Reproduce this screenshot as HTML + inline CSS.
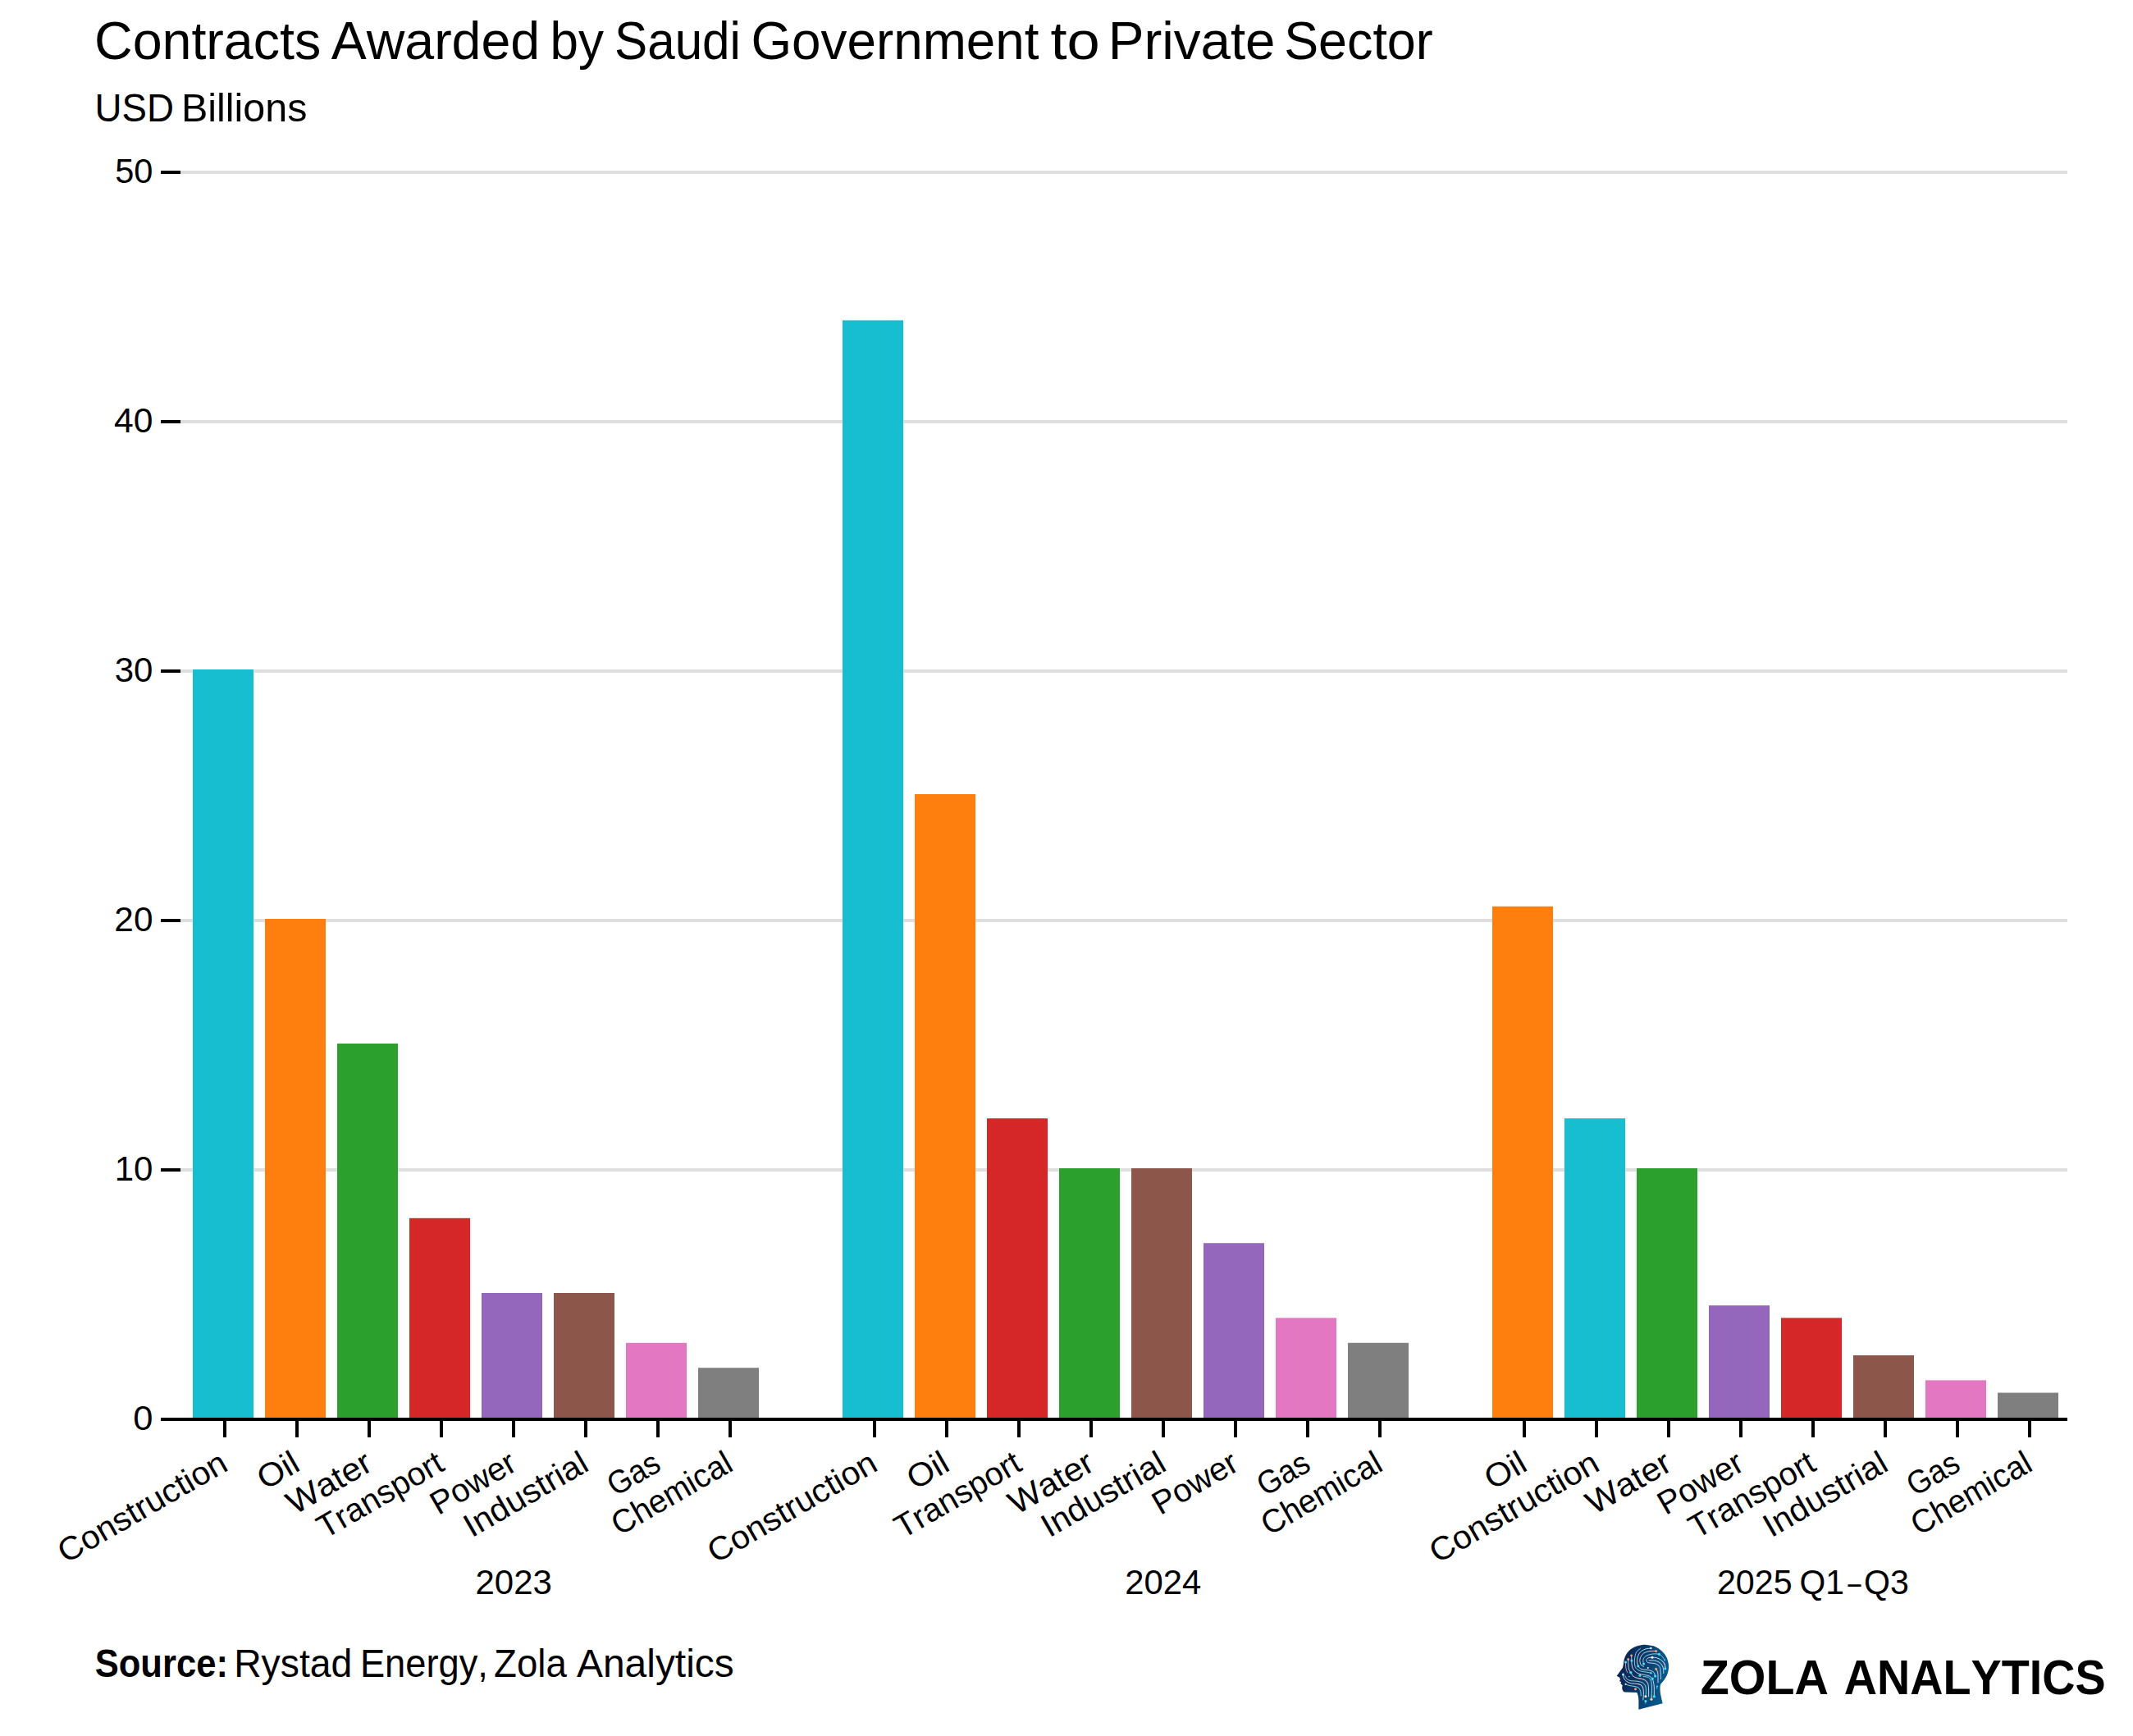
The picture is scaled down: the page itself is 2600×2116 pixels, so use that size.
<!DOCTYPE html>
<html lang="en"><head><meta charset="utf-8"><title>Contracts Awarded by Saudi Government to Private Sector</title>
<style>html,body{margin:0;padding:0;background:#fff}body{width:2600px;height:2116px;overflow:hidden}svg{display:block}text{font-family:"Liberation Sans",sans-serif;fill:#000;font-kerning:none}</style></head><body>
<svg width="2600" height="2116" viewBox="0 0 2600 2116">
<rect width="2600" height="2116" fill="#fff"/>
<text y="71.5" font-size="64"><tspan x="115.02" textLength="276.21" lengthAdjust="spacingAndGlyphs">Contracts</tspan> <tspan x="403.67" textLength="254.58" lengthAdjust="spacingAndGlyphs">Awarded</tspan> <tspan x="670.51" textLength="65.41" lengthAdjust="spacingAndGlyphs">by</tspan> <tspan x="749.07" textLength="153.89" lengthAdjust="spacingAndGlyphs">Saudi</tspan> <tspan x="915.39" textLength="351.18" lengthAdjust="spacingAndGlyphs">Government</tspan> <tspan x="1280.5" textLength="60.33" lengthAdjust="spacingAndGlyphs">to</tspan> <tspan x="1350.73" textLength="203.78" lengthAdjust="spacingAndGlyphs">Private</tspan> <tspan x="1565.15" textLength="181.6" lengthAdjust="spacingAndGlyphs">Sector</tspan></text>
<text y="147.8" font-size="48"><tspan x="115.48" textLength="96.41" lengthAdjust="spacingAndGlyphs">USD</tspan> <tspan x="220.93" textLength="153.42" lengthAdjust="spacingAndGlyphs">Billions</tspan></text>
<g fill="#dedede">
<rect x="220" y="1424" width="2300" height="4"/>
<rect x="220" y="1120" width="2300" height="4"/>
<rect x="220" y="816" width="2300" height="4"/>
<rect x="220" y="512" width="2300" height="4"/>
<rect x="220" y="208" width="2300" height="4"/>
</g>
<g>
<rect x="235" y="816" width="74" height="912" fill="#17becf"/>
<rect x="323" y="1120" width="74" height="608" fill="#ff7f0e"/>
<rect x="411" y="1272" width="74" height="456" fill="#2ca02c"/>
<rect x="499" y="1484.8" width="74" height="243.2" fill="#d62728"/>
<rect x="587" y="1576" width="74" height="152" fill="#9467bd"/>
<rect x="675" y="1576" width="74" height="152" fill="#8c564b"/>
<rect x="763" y="1636.8" width="74" height="91.2" fill="#e377c2"/>
<rect x="851" y="1667.2" width="74" height="60.8" fill="#7f7f7f"/>
<rect x="1027" y="390.4" width="74" height="1337.6" fill="#17becf"/>
<rect x="1115" y="968" width="74" height="760" fill="#ff7f0e"/>
<rect x="1203" y="1363.2" width="74" height="364.8" fill="#d62728"/>
<rect x="1291" y="1424" width="74" height="304" fill="#2ca02c"/>
<rect x="1379" y="1424" width="74" height="304" fill="#8c564b"/>
<rect x="1467" y="1515.2" width="74" height="212.8" fill="#9467bd"/>
<rect x="1555" y="1606.4" width="74" height="121.6" fill="#e377c2"/>
<rect x="1643" y="1636.8" width="74" height="91.2" fill="#7f7f7f"/>
<rect x="1819" y="1104.8" width="74" height="623.2" fill="#ff7f0e"/>
<rect x="1907" y="1363.2" width="74" height="364.8" fill="#17becf"/>
<rect x="1995" y="1424" width="74" height="304" fill="#2ca02c"/>
<rect x="2083" y="1591.2" width="74" height="136.8" fill="#9467bd"/>
<rect x="2171" y="1606.4" width="74" height="121.6" fill="#d62728"/>
<rect x="2259" y="1652" width="74" height="76" fill="#8c564b"/>
<rect x="2347" y="1682.4" width="74" height="45.6" fill="#e377c2"/>
<rect x="2435" y="1697.6" width="74" height="30.4" fill="#7f7f7f"/>
</g>
<g fill="#000">
<rect x="196" y="1728" width="2324" height="4"/>
<rect x="196" y="1424" width="24" height="4"/>
<rect x="196" y="1120" width="24" height="4"/>
<rect x="196" y="816" width="24" height="4"/>
<rect x="196" y="512" width="24" height="4"/>
<rect x="196" y="208" width="24" height="4"/>
<rect x="272" y="1730" width="4" height="22"/>
<rect x="360" y="1730" width="4" height="22"/>
<rect x="448" y="1730" width="4" height="22"/>
<rect x="536" y="1730" width="4" height="22"/>
<rect x="624" y="1730" width="4" height="22"/>
<rect x="712" y="1730" width="4" height="22"/>
<rect x="800" y="1730" width="4" height="22"/>
<rect x="888" y="1730" width="4" height="22"/>
<rect x="1064" y="1730" width="4" height="22"/>
<rect x="1152" y="1730" width="4" height="22"/>
<rect x="1240" y="1730" width="4" height="22"/>
<rect x="1328" y="1730" width="4" height="22"/>
<rect x="1416" y="1730" width="4" height="22"/>
<rect x="1504" y="1730" width="4" height="22"/>
<rect x="1592" y="1730" width="4" height="22"/>
<rect x="1680" y="1730" width="4" height="22"/>
<rect x="1856" y="1730" width="4" height="22"/>
<rect x="1944" y="1730" width="4" height="22"/>
<rect x="2032" y="1730" width="4" height="22"/>
<rect x="2120" y="1730" width="4" height="22"/>
<rect x="2208" y="1730" width="4" height="22"/>
<rect x="2296" y="1730" width="4" height="22"/>
<rect x="2384" y="1730" width="4" height="22"/>
<rect x="2472" y="1730" width="4" height="22"/>
</g>
<g font-size="41.66">
<text x="162.3" y="1743.2" textLength="24.2" lengthAdjust="spacingAndGlyphs">0</text>
<text x="139.68" y="1439.2" textLength="46.76" lengthAdjust="spacingAndGlyphs">10</text>
<text x="139.35" y="1135.2" textLength="47.1" lengthAdjust="spacingAndGlyphs">20</text>
<text x="139.72" y="831.2" textLength="46.72" lengthAdjust="spacingAndGlyphs">30</text>
<text x="139.08" y="527.2" textLength="47.38" lengthAdjust="spacingAndGlyphs">40</text>
<text x="140.18" y="223.2" textLength="46.25" lengthAdjust="spacingAndGlyphs">50</text>
</g>
<g font-size="40">
<text transform="translate(280,1791) rotate(-30)" x="-230.73" textLength="230.75" lengthAdjust="spacingAndGlyphs">Construction</text>
<text transform="translate(368,1791) rotate(-30)" x="-51.67" textLength="51.52" lengthAdjust="spacingAndGlyphs">Oil</text>
<text transform="translate(456,1791) rotate(-30)" x="-111.99" textLength="112.39" lengthAdjust="spacingAndGlyphs">Water</text>
<text transform="translate(544,1791) rotate(-30)" x="-170.71" textLength="170.59" lengthAdjust="spacingAndGlyphs">Transport</text>
<text transform="translate(632,1791) rotate(-30)" x="-113.02" textLength="113.38" lengthAdjust="spacingAndGlyphs">Power</text>
<text transform="translate(720,1791) rotate(-30)" x="-167.3" textLength="167.08" lengthAdjust="spacingAndGlyphs">Industrial</text>
<text transform="translate(808,1791) rotate(-30)" x="-67.02" textLength="66.76" lengthAdjust="spacingAndGlyphs">Gas</text>
<text transform="translate(896,1791) rotate(-30)" x="-162.75" textLength="162.39" lengthAdjust="spacingAndGlyphs">Chemical</text>
<text transform="translate(1072,1791) rotate(-30)" x="-230.73" textLength="230.75" lengthAdjust="spacingAndGlyphs">Construction</text>
<text transform="translate(1160,1791) rotate(-30)" x="-51.67" textLength="51.52" lengthAdjust="spacingAndGlyphs">Oil</text>
<text transform="translate(1248,1791) rotate(-30)" x="-170.71" textLength="170.59" lengthAdjust="spacingAndGlyphs">Transport</text>
<text transform="translate(1336,1791) rotate(-30)" x="-111.99" textLength="112.39" lengthAdjust="spacingAndGlyphs">Water</text>
<text transform="translate(1424,1791) rotate(-30)" x="-167.3" textLength="167.08" lengthAdjust="spacingAndGlyphs">Industrial</text>
<text transform="translate(1512,1791) rotate(-30)" x="-113.02" textLength="113.38" lengthAdjust="spacingAndGlyphs">Power</text>
<text transform="translate(1600,1791) rotate(-30)" x="-67.02" textLength="66.76" lengthAdjust="spacingAndGlyphs">Gas</text>
<text transform="translate(1688,1791) rotate(-30)" x="-162.75" textLength="162.39" lengthAdjust="spacingAndGlyphs">Chemical</text>
<text transform="translate(1864,1791) rotate(-30)" x="-51.67" textLength="51.52" lengthAdjust="spacingAndGlyphs">Oil</text>
<text transform="translate(1952,1791) rotate(-30)" x="-230.73" textLength="230.75" lengthAdjust="spacingAndGlyphs">Construction</text>
<text transform="translate(2040,1791) rotate(-30)" x="-111.99" textLength="112.39" lengthAdjust="spacingAndGlyphs">Water</text>
<text transform="translate(2128,1791) rotate(-30)" x="-113.02" textLength="113.38" lengthAdjust="spacingAndGlyphs">Power</text>
<text transform="translate(2216,1791) rotate(-30)" x="-170.71" textLength="170.59" lengthAdjust="spacingAndGlyphs">Transport</text>
<text transform="translate(2304,1791) rotate(-30)" x="-167.3" textLength="167.08" lengthAdjust="spacingAndGlyphs">Industrial</text>
<text transform="translate(2392,1791) rotate(-30)" x="-67.02" textLength="66.76" lengthAdjust="spacingAndGlyphs">Gas</text>
<text transform="translate(2480,1791) rotate(-30)" x="-162.75" textLength="162.39" lengthAdjust="spacingAndGlyphs">Chemical</text>
</g>
<text y="1943" font-size="41.66"><tspan x="579.49" textLength="93.35" lengthAdjust="spacingAndGlyphs">2023</tspan></text>
<text y="1943" font-size="41.66"><tspan x="1371.2" textLength="93.03" lengthAdjust="spacingAndGlyphs">2024</tspan></text>
<text y="1943" font-size="41.66"><tspan x="2092.92" textLength="91.81" lengthAdjust="spacingAndGlyphs">2025</tspan> <tspan x="2193.57" textLength="54.42" lengthAdjust="spacingAndGlyphs">Q1</tspan><tspan x="2252.4" textLength="16.01" lengthAdjust="spacingAndGlyphs">–</tspan><tspan x="2271.95" textLength="54.85" lengthAdjust="spacingAndGlyphs">Q3</tspan></text>
<text y="2044" font-size="48"><tspan x="115.64" textLength="162.35" lengthAdjust="spacingAndGlyphs" font-weight="bold">Source:</tspan> <tspan x="285.2" textLength="144.08" lengthAdjust="spacingAndGlyphs">Rystad</tspan> <tspan x="438.88" textLength="156.08" lengthAdjust="spacingAndGlyphs">Energy,</tspan> <tspan x="602.05" textLength="88.75" lengthAdjust="spacingAndGlyphs">Zola</tspan> <tspan x="703.01" textLength="191.72" lengthAdjust="spacingAndGlyphs">Analytics</tspan></text>
<text y="2065" font-size="60" font-weight="bold"><tspan x="2072.79" textLength="156.12" lengthAdjust="spacingAndGlyphs">ZOLA</tspan> <tspan x="2247.71" textLength="318.86" lengthAdjust="spacingAndGlyphs">ANALYTICS</tspan></text>
<defs><linearGradient id="hg" x1="0" y1="0" x2="1" y2="0.25"><stop offset="0" stop-color="#0b1b4c"/><stop offset="0.5" stop-color="#0a3768"/><stop offset="1" stop-color="#085a90"/></linearGradient></defs>
<g transform="translate(1965,2000) scale(0.05184)">
<path d="M790 93C825 100 936 107 1000 132C1064 157 1127 200 1175 245C1223 290 1262 342 1288 400C1314 458 1330 530 1333 590C1336 650 1324 708 1308 760C1292 812 1261 863 1235 905C1209 947 1168 978 1150 1010C1132 1042 1132 1060 1130 1100C1128 1140 1130 1188 1140 1250C1150 1312 1182 1433 1190 1470L625 1615L625 1400C622 1330 612 1270 585 1215L300 1205C265 1200 240 1170 235 1100L245 1050L200 1000L215 975L175 940L195 910L180 880L185 868L110 825L250 630C262 590 266 560 270 520C280 400 330 300 400 230C500 140 650 93 790 93Z" fill="url(#hg)"/>
<g fill="none" stroke-width="16" stroke-linecap="round">
<path d="M665 180C649 195 592 233 570 270C548 307 542 358 535 400C528 442 524 480 528 520C532 560 536 608 560 640C584 672 627 694 670 710C713 726 779 730 820 738C861 746 899 752 915 755" stroke="#b5ecf2"/>
<path d="M915 175C892 178 822 179 780 195C738 211 690 238 660 270C630 302 611 348 600 390C589 432 587 482 592 520C597 558 609 595 630 620C651 645 680 660 720 672C760 684 827 679 870 690C913 701 956 717 980 740C1004 763 1007 815 1012 830" stroke="#f0f5f8"/>
<path d="M1035 240C1009 241 929 236 880 245C831 254 776 269 740 295C704 321 679 366 665 400C651 434 651 471 655 500C659 529 675 558 690 575C705 592 736 596 745 600" stroke="#f0f5f8"/>
<path d="M1240 455C1230 441 1202 393 1180 370C1158 347 1143 325 1105 315C1067 305 1001 303 950 310C899 317 837 332 800 355C763 378 739 414 730 445C721 476 742 524 745 540" stroke="#b5ecf2"/>
<path d="M1250 655C1248 636 1252 574 1235 540C1218 506 1181 473 1150 450C1119 427 1084 410 1050 400C1016 390 977 390 945 390C913 390 883 389 860 398C837 407 813 427 808 445C803 463 815 492 830 505C845 518 872 518 900 522C928 526 967 522 1000 532C1033 542 1078 562 1100 585C1122 608 1128 634 1135 670C1142 706 1143 762 1145 800C1147 838 1145 883 1145 900" stroke="#f0f5f8"/>
<path d="M870 460C892 461 962 458 1000 465C1038 472 1070 481 1100 500C1130 519 1162 550 1180 580C1198 610 1205 650 1210 680C1215 710 1210 747 1210 760" stroke="#f0f5f8"/>
<path d="M1035 660C1041 672 1064 698 1072 730C1080 762 1079 808 1080 850C1081 892 1080 958 1080 980" stroke="#f0f5f8"/>
<path d="M320 500C320 517 317 568 320 600C323 632 330 665 338 690C346 715 360 738 365 748" stroke="#e9c3b3"/>
<path d="M380 435C380 456 379 519 382 560C385 601 390 649 400 680C410 711 425 721 440 745C455 769 467 804 490 825C513 846 545 860 580 872C615 884 665 884 700 895C735 906 766 916 790 935C814 954 831 981 842 1010C853 1039 855 1060 858 1110C861 1160 860 1277 860 1310" stroke="#f0f5f8"/>
<path d="M455 345C456 365 458 422 460 465C462 508 460 561 470 600C480 639 495 672 520 700C545 728 580 753 620 770C660 787 717 790 760 800C803 810 849 815 880 830C911 845 929 867 945 892C961 917 968 945 975 980C982 1015 988 1045 990 1100C992 1155 990 1275 990 1310" stroke="#f0f5f8"/>
<path d="M260 790C262 803 262 843 275 870C288 897 306 928 335 950C364 972 406 990 450 1000C494 1010 559 1004 600 1012C641 1020 672 1029 695 1050C718 1071 728 1105 735 1140C742 1175 741 1218 740 1260C739 1302 732 1368 730 1390" stroke="#f0f5f8"/>
<path d="M310 825C317 838 327 881 350 900C373 919 408 932 450 940C492 948 555 942 600 950C645 958 689 967 720 985C751 1003 772 1028 785 1060C798 1092 799 1139 800 1180C801 1221 792 1284 790 1305" stroke="#b5ecf2"/>
<path d="M320 1020C333 1025 367 1042 400 1050C433 1058 483 1062 520 1070C557 1078 595 1082 620 1100C645 1118 658 1148 668 1180C678 1212 678 1272 680 1290" stroke="#b5ecf2"/>
<path d="M740 840C760 844 830 844 860 862C890 880 906 910 918 950C930 990 933 1050 935 1100C937 1150 934 1204 932 1250C930 1296 926 1354 925 1375" stroke="#b5ecf2"/>
<path d="M790 1420C789 1428 786 1462 785 1470" stroke="#45e0f0"/>
<path d="M1060 1070C1058 1079 1052 1116 1050 1125" stroke="#45e0f0"/>
<path d="M585 878C596 879 628 881 650 885C672 889 697 892 720 900C743 908 771 920 790 935C809 950 828 981 835 990" stroke="#f2a27c"/>
<path d="M1035 240C1022 240 982 241 960 242C938 243 910 244 900 245" stroke="#f2a27c"/>
<path d="M1250 655C1248 639 1250 588 1240 560C1230 532 1198 498 1190 485" stroke="#e9c3b3"/>
<path d="M600 1012C613 1017 659 1024 680 1040C701 1056 718 1098 725 1110" stroke="#e9c3b3"/>
<path d="M925 1375C926 1359 929 1296 930 1280" stroke="#f2a27c"/>
<path d="M1035 660C1041 672 1066 718 1072 730" stroke="#f2a27c"/>
</g><g>
<circle cx="915" cy="175" r="24" fill="#d8f3f5"/>
<circle cx="1035" cy="240" r="29" fill="#f2a27c"/>
<circle cx="1105" cy="315" r="31" fill="#45e0f0"/>
<circle cx="945" cy="390" r="29" fill="#fff"/>
<circle cx="1240" cy="455" r="18" fill="#45e0f0"/>
<circle cx="1250" cy="655" r="29" fill="#45e0f0"/>
<circle cx="455" cy="345" r="26" fill="#f2a27c"/>
<circle cx="380" cy="435" r="29" fill="#f2a27c"/>
<circle cx="460" cy="465" r="30" fill="#45e0f0"/>
<circle cx="320" cy="500" r="29" fill="#45e0f0"/>
<circle cx="745" cy="540" r="30" fill="#45e0f0"/>
<circle cx="615" cy="595" r="30" fill="#45e0f0"/>
<circle cx="845" cy="635" r="20" fill="#e9f2f5"/>
<circle cx="1035" cy="660" r="29" fill="#f2a27c"/>
<circle cx="915" cy="755" r="24" fill="#45e0f0"/>
<circle cx="440" cy="745" r="32" fill="#45e0f0"/>
<circle cx="655" cy="815" r="29" fill="#45e0f0"/>
<circle cx="400" cy="840" r="16" fill="#45e0f0"/>
<circle cx="260" cy="790" r="29" fill="#aeeaf0"/>
<circle cx="1015" cy="830" r="31" fill="#45e0f0"/>
<circle cx="950" cy="890" r="30" fill="#45e0f0"/>
<circle cx="320" cy="1020" r="20" fill="#bfe6ec"/>
<circle cx="550" cy="1135" r="29" fill="#f2a27c"/>
<circle cx="1060" cy="1070" r="19" fill="#45e0f0"/>
<circle cx="790" cy="1305" r="29" fill="#fff"/>
<circle cx="990" cy="1310" r="31" fill="#45e0f0"/>
<circle cx="925" cy="1375" r="31" fill="#f5c79f"/>
<circle cx="790" cy="1420" r="29" fill="#45e0f0"/>
</g></g>
</svg></body></html>
